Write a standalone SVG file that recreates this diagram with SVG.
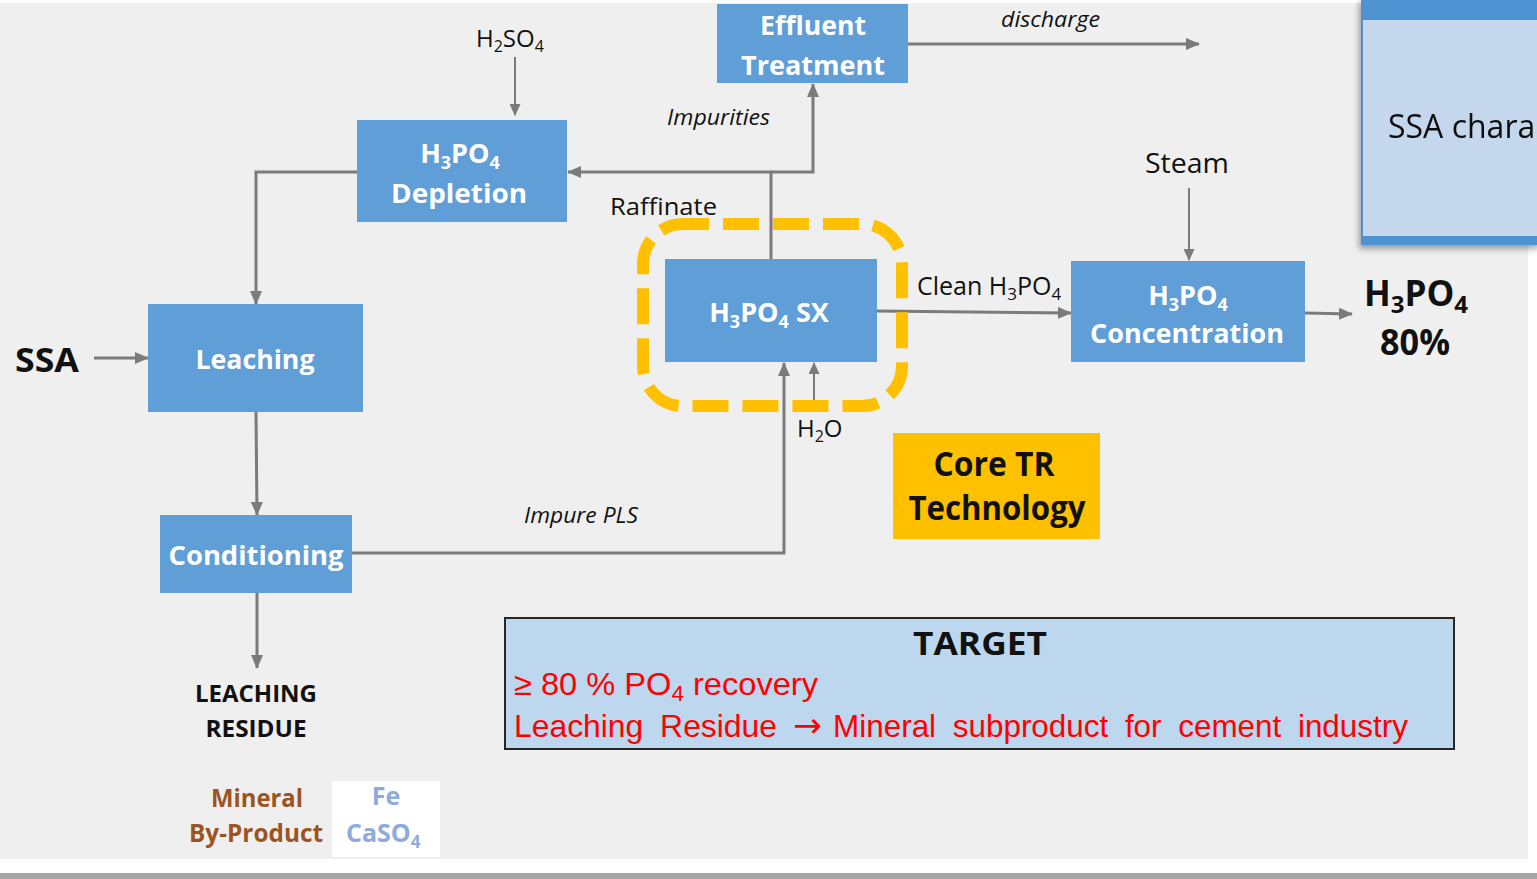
<svg xmlns="http://www.w3.org/2000/svg" width="1537" height="879" viewBox="0 0 1537 879">
  <defs>
    <marker id="arrow" markerUnits="userSpaceOnUse" markerWidth="14" markerHeight="12" refX="13" refY="6" orient="auto">
      <path d="M0,0 L14,6 L0,12 z" fill="#7b7b7b"/>
    </marker>
    <marker id="arrow-sm" markerUnits="userSpaceOnUse" markerWidth="12" markerHeight="11" refX="11" refY="5.5" orient="auto">
      <path d="M0,0 L12,5.5 L0,11 z" fill="#7b7b7b"/>
    </marker>
    <filter id="shadow" x="-10%" y="-10%" width="130%" height="130%">
      <feGaussianBlur in="SourceAlpha" stdDeviation="3"/>
      <feOffset dx="-2" dy="4" result="b"/>
      <feComponentTransfer><feFuncA type="linear" slope="0.35"/></feComponentTransfer>
      <feMerge><feMergeNode/><feMergeNode in="SourceGraphic"/></feMerge>
    </filter>
  </defs>
  <style>
    .box { fill: #5f9ed7; }
    .boxtext { font-family: "Open Sans", "Noto Sans", sans-serif; font-weight: 700; fill: #ffffff; text-anchor: middle; }
    .label { font-family: "Open Sans", "Noto Sans", sans-serif; fill: #111111; }
    .ital { font-style: italic; }
    .bold { font-weight: 700; }
    .brown { fill: #9c5422; }
    .pale { fill: #8eaadc; }
    .line { fill: none; stroke: #7b7b7b; stroke-width: 3; }
    .thin { fill: none; stroke: #7b7b7b; stroke-width: 2; }
    .red { font-family: "Liberation Sans", Arial, sans-serif; fill: #ff0000; font-size: 32px; }
    .red-arrow { font-family: "DejaVu Sans", sans-serif; fill: #ff0000; font-size: 34px; }
  </style>

  <!-- page -->
  <rect x="0" y="0" width="1537" height="879" fill="#ffffff"/>
  <rect x="0" y="3" width="1528" height="856" fill="#efefef"/>
  <rect x="0" y="873" width="1537" height="6" fill="#a6a6a6"/>

  <!-- connectors -->
  <g id="connectors">
    <path class="thin" d="M515,57 V115" marker-end="url(#arrow-sm)"/>
    <path class="line" d="M771,259 V172 H568" marker-end="url(#arrow)"/>
    <path class="line" d="M771,172 H813 V84" marker-end="url(#arrow)"/>
    <path class="line" d="M908,44 H1199" marker-end="url(#arrow)"/>
    <path class="line" d="M357,172 H256 V304" marker-end="url(#arrow)"/>
    <path class="line" d="M94,358 H148" marker-end="url(#arrow)"/>
    <path class="line" d="M256,412 L257,515" marker-end="url(#arrow)"/>
    <path class="line" d="M257,593 V668" marker-end="url(#arrow)"/>
    <path class="line" d="M352,553 H784 V363" marker-end="url(#arrow)"/>
    <path class="thin" d="M814,400 V363" marker-end="url(#arrow-sm)"/>
    <path class="line" d="M877,311 L1071,313" marker-end="url(#arrow)"/>
    <path class="thin" d="M1189,188 V260" marker-end="url(#arrow-sm)"/>
    <path class="line" d="M1305,313 L1352,314" marker-end="url(#arrow)"/>
  </g>

  <!-- core technology highlight -->
  <rect id="core-frame" x="643" y="224" width="259" height="182" rx="40" ry="40" fill="none" stroke="#ffc000" stroke-width="12" stroke-dasharray="36 14" stroke-dashoffset="10"/>

  <g id="effluent-treatment">
    <rect class="box" x="717" y="4" width="191" height="79"/>
    <text class="boxtext" x="813" y="35" font-size="27" textLength="106" lengthAdjust="spacingAndGlyphs">Effluent</text>
    <text class="boxtext" x="813" y="75" font-size="27" textLength="144" lengthAdjust="spacingAndGlyphs">Treatment</text>
  </g>

  <g id="depletion">
    <rect class="box" x="357" y="120" width="210" height="102"/>
    <text class="boxtext" x="460" y="163" font-size="27">H<tspan font-size="18" dy="6">3</tspan><tspan dy="-6">PO</tspan><tspan font-size="18" dy="6">4</tspan></text>
    <text class="boxtext" x="459" y="203" font-size="27" textLength="136" lengthAdjust="spacingAndGlyphs">Depletion</text>
  </g>

  <g id="leaching">
    <rect class="box" x="148" y="304" width="215" height="108"/>
    <text class="boxtext" x="255" y="369" font-size="27" textLength="119" lengthAdjust="spacingAndGlyphs">Leaching</text>
  </g>

  <g id="conditioning">
    <rect class="box" x="160" y="515" width="192" height="78"/>
    <text class="boxtext" x="256" y="565" font-size="27" textLength="175" lengthAdjust="spacingAndGlyphs">Conditioning</text>
  </g>

  <g id="sx">
    <rect class="box" x="665" y="259" width="212" height="103"/>
    <text class="boxtext" x="769" y="322" font-size="27">H<tspan font-size="18" dy="6">3</tspan><tspan dy="-6">PO</tspan><tspan font-size="18" dy="6">4</tspan><tspan dy="-6"> SX</tspan></text>
  </g>

  <g id="concentration">
    <rect class="box" x="1071" y="261" width="234" height="101"/>
    <text class="boxtext" x="1188" y="305" font-size="27">H<tspan font-size="18" dy="6">3</tspan><tspan dy="-6">PO</tspan><tspan font-size="18" dy="6">4</tspan></text>
    <text class="boxtext" x="1187" y="343" font-size="27" textLength="194" lengthAdjust="spacingAndGlyphs">Concentration</text>
  </g>

  <g id="core-tr">
    <rect x="893" y="433" width="207" height="106" fill="#ffc000"/>
    <text class="label bold" x="994" y="476" font-size="34" text-anchor="middle" textLength="121" lengthAdjust="spacingAndGlyphs">Core TR</text>
    <text class="label bold" x="997" y="520" font-size="34" text-anchor="middle" textLength="177" lengthAdjust="spacingAndGlyphs">Technology</text>
  </g>

  <g id="target">
    <rect x="505" y="618" width="949" height="131" fill="#bdd7ee" stroke="#262626" stroke-width="2"/>
    <text class="label bold" x="980" y="655" font-size="32" text-anchor="middle" textLength="134" lengthAdjust="spacingAndGlyphs">TARGET</text>
    <text class="red" x="514" y="695" textLength="304" lengthAdjust="spacingAndGlyphs">≥ 80 % PO<tspan font-size="22" dy="6">4</tspan><tspan dy="-6"> recovery</tspan></text>
    <text class="red" x="514" y="737" textLength="263" lengthAdjust="spacingAndGlyphs" word-spacing="8">Leaching Residue</text>
    <text class="red-arrow" x="793" y="737" textLength="29" lengthAdjust="spacingAndGlyphs">→</text>
    <text class="red" x="833" y="737" textLength="575" lengthAdjust="spacingAndGlyphs" word-spacing="8">Mineral subproduct for cement industry</text>
  </g>

  <!-- stream labels -->
  <g id="labels">
    <text class="label" x="476" y="47" font-size="24">H<tspan font-size="16" dy="5">2</tspan><tspan dy="-5">SO</tspan><tspan font-size="16" dy="5">4</tspan></text>
    <text class="label ital" x="667" y="125" font-size="21" textLength="103" lengthAdjust="spacingAndGlyphs">Impurities</text>
    <text class="label ital" x="1001" y="27" font-size="21" textLength="99" lengthAdjust="spacingAndGlyphs">discharge</text>
    <text class="label" x="610" y="215" font-size="24" textLength="107" lengthAdjust="spacingAndGlyphs">Raffinate</text>
    <text class="label" x="1145" y="173" font-size="27" textLength="84" lengthAdjust="spacingAndGlyphs">Steam</text>
    <text class="label" x="917" y="295" font-size="25">Clean H<tspan font-size="17" dy="5">3</tspan><tspan dy="-5">PO</tspan><tspan font-size="17" dy="5">4</tspan></text>
    <text class="label" x="797" y="437" font-size="24">H<tspan font-size="16" dy="5">2</tspan><tspan dy="-5">O</tspan></text>
    <text class="label ital" x="524" y="523" font-size="21" textLength="114" lengthAdjust="spacingAndGlyphs">Impure PLS</text>
    <text class="label bold" x="15" y="372" font-size="34" textLength="64" lengthAdjust="spacingAndGlyphs">SSA</text>
    <text class="label bold" x="1364" y="306" font-size="35">H<tspan font-size="24" dy="7">3</tspan><tspan dy="-7">PO</tspan><tspan font-size="24" dy="7">4</tspan></text>
    <text class="label bold" x="1415" y="355" font-size="36" text-anchor="middle" textLength="70" lengthAdjust="spacingAndGlyphs">80%</text>
    <text class="label bold" x="256" y="702" font-size="24" text-anchor="middle" textLength="122" lengthAdjust="spacingAndGlyphs">LEACHING</text>
    <text class="label bold" x="256" y="737" font-size="24" text-anchor="middle" textLength="101" lengthAdjust="spacingAndGlyphs">RESIDUE</text>
  </g>

  <g id="by-product">
    <text class="label bold brown" x="257" y="807" font-size="25" text-anchor="middle" textLength="92" lengthAdjust="spacingAndGlyphs">Mineral</text>
    <text class="label bold brown" x="256" y="842" font-size="25" text-anchor="middle" textLength="134" lengthAdjust="spacingAndGlyphs">By-Product</text>
    <rect x="332" y="781" width="108" height="76" fill="#ffffff"/>
    <text class="label bold pale" x="386" y="805" font-size="25" text-anchor="middle">Fe</text>
    <text class="label bold pale" x="346" y="842" font-size="25">CaSO<tspan font-size="17" dy="6">4</tspan></text>
  </g>

  <g id="ssa-panel" filter="url(#shadow)">
    <rect x="1361" y="-2" width="180" height="247" fill="#4f92d2"/>
    <rect x="1363" y="20" width="178" height="216" fill="#c5d7ec"/>
    <text class="label" x="1388" y="138" font-size="32">SSA chara</text>
  </g>
</svg>
